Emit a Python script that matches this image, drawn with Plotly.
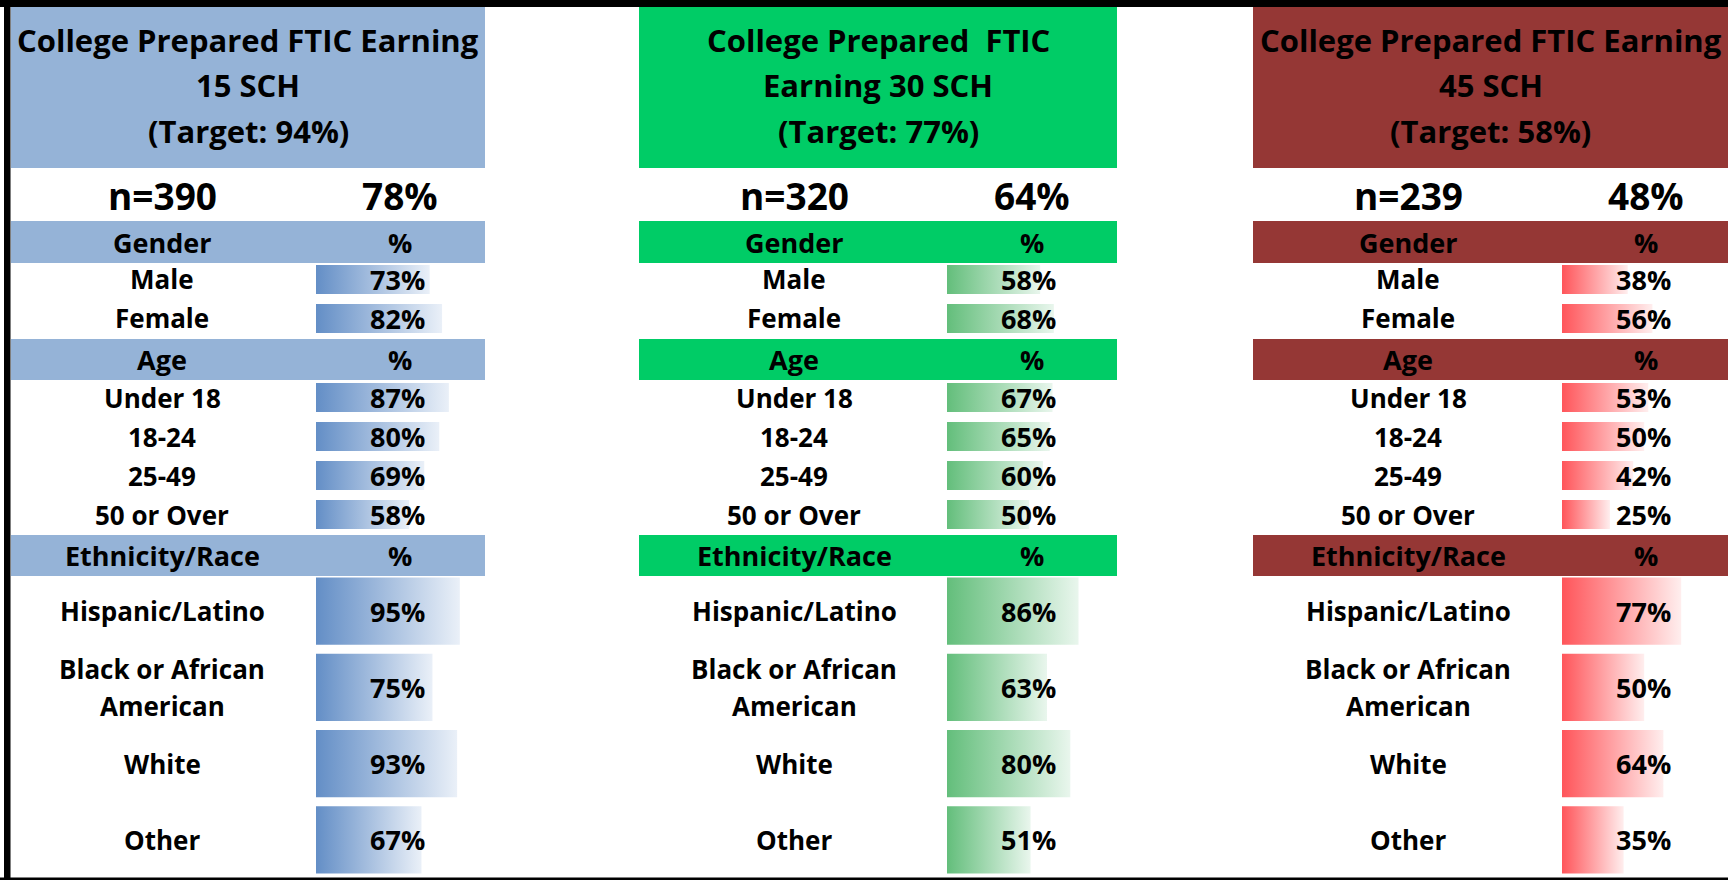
import plotly.graph_objects as go

W, H = 1728, 880

# ---------------- data ----------------
title_lines = [
    ["College Prepared FTIC Earning", "15 SCH", "(Target: 94%)"],
    ["College Prepared\u00a0 FTIC", "Earning 30 SCH", "(Target: 77%)"],
    ["College Prepared FTIC Earning", "45 SCH", "(Target: 58%)"],
]
n_students = [390, 320, 239]
overall_rate = [78, 64, 48]

section_names = ["Gender", "Age", "Ethnicity/Race"]
gender_labels = ["Male", "Female"]
age_labels = ["Under 18", "18-24", "25-49", "50 or Over"]
eth_labels = ["Hispanic/Latino", "Black or African American", "White", "Other"]

gender_15 = [73, 82]
gender_30 = [58, 68]
gender_45 = [38, 56]
age_15 = [87, 80, 69, 58]
age_30 = [67, 65, 60, 50]
age_45 = [53, 50, 42, 25]
eth_15 = [95, 75, 93, 67]
eth_30 = [86, 63, 80, 51]
eth_45 = [77, 50, 64, 35]

section_labels = [gender_labels, age_labels, eth_labels]
column_values = [
    [gender_15, age_15, eth_15],
    [gender_30, age_30, eth_30],
    [gender_45, age_45, eth_45],
]

# ---------------- styles / layout (pixels) ----------------
FONT = "Open Sans"
PANEL_COLORS = ["#95B3D7", "#00CC66", "#953735"]
BAR_SCALES = [["#638EC6", "#EAF0F8"], ["#63BE7B", "#E9F6ED"], ["#FF555A", "#FFEEEE"]]
COLS = [
    dict(panel=(11, 485), label_cx=162, pct_cx=400, bar_left=316, val_right=427),
    dict(panel=(639, 1117), label_cx=794, pct_cx=1032, bar_left=947, val_right=1058),
    dict(panel=(1253, 1728), label_cx=1408, pct_cx=1646, bar_left=1562, val_right=1673),
]
TITLE_BOX = (7, 168)
TITLE_Y = [40, 85, 131]
TITLE_SIZE = 31
N_ROW_Y = 196
SECTIONS = [
    dict(head=(221, 263), rows=(260, 338), half=0.372),
    dict(head=(339, 380), rows=(378, 534), half=0.372),
    dict(head=(535, 576), rows=(573, 878), half=0.44),
]
WRAP = {"Black or African American": ["Black or African", "American"]}
WRAP_GAP = 37          # pixels between wrapped label lines
BAR_FLOOR = -10        # data-bar minimum (Excel style offset)
BAR_MAX = 100
PX_PER_PCT = 1.37


def fx(px):
    return px / W


def fy(py):
    return 1 - py / H


def font(size):
    return dict(family=FONT, size=size, color="black", weight="bold")


fig = go.Figure()
shapes = []
annotations = []
layout_axes = {}

# borders
shapes.append(dict(type="rect", xref="paper", yref="paper", x0=0, x1=1, y0=fy(7), y1=fy(0),
                   fillcolor="black", line=dict(width=0), layer="above"))
shapes.append(dict(type="rect", xref="paper", yref="paper", x0=fx(4), x1=fx(10.5), y0=fy(879), y1=fy(0),
                   fillcolor="black", line=dict(width=0), layer="above"))
shapes.append(dict(type="rect", xref="paper", yref="paper", x0=0, x1=1, y0=fy(880), y1=fy(877.5),
                   fillcolor="black", line=dict(width=0), layer="above"))

for c, col in enumerate(COLS):
    px0, px1 = col["panel"]
    color = PANEL_COLORS[c]
    # title panel
    shapes.append(dict(type="rect", xref="paper", yref="paper", x0=fx(px0), x1=fx(px1),
                       y0=fy(TITLE_BOX[1]), y1=fy(TITLE_BOX[0]), fillcolor=color,
                       line=dict(width=0), layer="below"))
    for line, ty in zip(title_lines[c], TITLE_Y):
        annotations.append(dict(xref="paper", yref="paper", x=fx((px0 + px1) / 2), y=fy(ty),
                                text=line, showarrow=False, font=font(TITLE_SIZE),
                                xanchor="center", yanchor="middle"))
    # n row
    annotations.append(dict(xref="paper", yref="paper", x=fx(col["label_cx"]), y=fy(N_ROW_Y),
                            text=f"n={n_students[c]}", showarrow=False, font=font(37),
                            xanchor="center", yanchor="middle"))
    annotations.append(dict(xref="paper", yref="paper", x=fx(col["pct_cx"]), y=fy(N_ROW_Y),
                            text=f"{overall_rate[c]}%", showarrow=False, font=font(37),
                            xanchor="center", yanchor="middle"))

    for s, sec in enumerate(SECTIONS):
        k = c * 3 + s + 1
        xa = "x" if k == 1 else f"x{k}"
        ya = "y" if k == 1 else f"y{k}"
        h0, h1 = sec["head"]
        shapes.append(dict(type="rect", xref="paper", yref="paper", x0=fx(px0), x1=fx(px1),
                           y0=fy(h1), y1=fy(h0), fillcolor=color, line=dict(width=0), layer="below"))
        hy = fy((h0 + h1) / 2)
        annotations.append(dict(xref="paper", yref="paper", x=fx(col["label_cx"]), y=hy,
                                text=section_names[s], showarrow=False, font=font(27),
                                xanchor="center", yanchor="middle"))
        annotations.append(dict(xref="paper", yref="paper", x=fx(col["pct_cx"]), y=hy,
                                text="%", showarrow=False, font=font(27),
                                xanchor="center", yanchor="middle"))

        labels = section_labels[s]
        vals = column_values[c][s]
        n = len(labels)
        r0, r1 = sec["rows"]
        bx0 = col["bar_left"]
        bx1 = bx0 + PX_PER_PCT * (BAR_MAX - BAR_FLOOR)
        layout_axes["xaxis" if k == 1 else f"xaxis{k}"] = dict(
            domain=[fx(bx0), fx(bx1)], range=[BAR_FLOOR, BAR_MAX], visible=False,
            fixedrange=True, anchor=ya)
        layout_axes["yaxis" if k == 1 else f"yaxis{k}"] = dict(
            domain=[fy(r1), fy(r0)], range=[n - 0.5, -0.5], visible=False,
            fixedrange=True, anchor=xa)
        hh = sec["half"]
        for i, (lab, v) in enumerate(zip(labels, vals)):
            fig.add_trace(go.Scatter(
                x=[BAR_FLOOR, v, v, BAR_FLOOR, BAR_FLOOR],
                y=[i - hh, i - hh, i + hh, i + hh, i - hh],
                xaxis=xa, yaxis=ya, mode="lines", fill="toself",
                line=dict(width=0, color=BAR_SCALES[c][0]),
                fillgradient=dict(type="horizontal",
                                  colorscale=[[0, BAR_SCALES[c][0]], [1, BAR_SCALES[c][1]]]),
                hoverinfo="skip", showlegend=False))
            lines = WRAP.get(lab, [lab])
            m = len(lines)
            for j, ln in enumerate(lines):
                annotations.append(dict(xref="paper", yref=ya, x=fx(col["label_cx"]), y=i,
                                        yshift=-(j - (m - 1) / 2) * WRAP_GAP,
                                        text=ln, showarrow=False, font=font(26),
                                        xanchor="center", yanchor="middle"))
            annotations.append(dict(xref="paper", yref=ya, x=fx(col["val_right"]), y=i,
                                    text=f"{v}%", showarrow=False, font=font(27),
                                    xanchor="right", yanchor="middle"))

fig.update_layout(
    width=W, height=H, autosize=False,
    margin=dict(l=0, r=0, t=0, b=0, pad=0),
    paper_bgcolor="white", plot_bgcolor="rgba(0,0,0,0)",
    shapes=shapes, annotations=annotations, showlegend=False,
    **layout_axes,
)

fig.write_html("out.html", config=dict(displayModeBar=False, staticPlot=True),
               post_script="document.body.style.margin='0';")
